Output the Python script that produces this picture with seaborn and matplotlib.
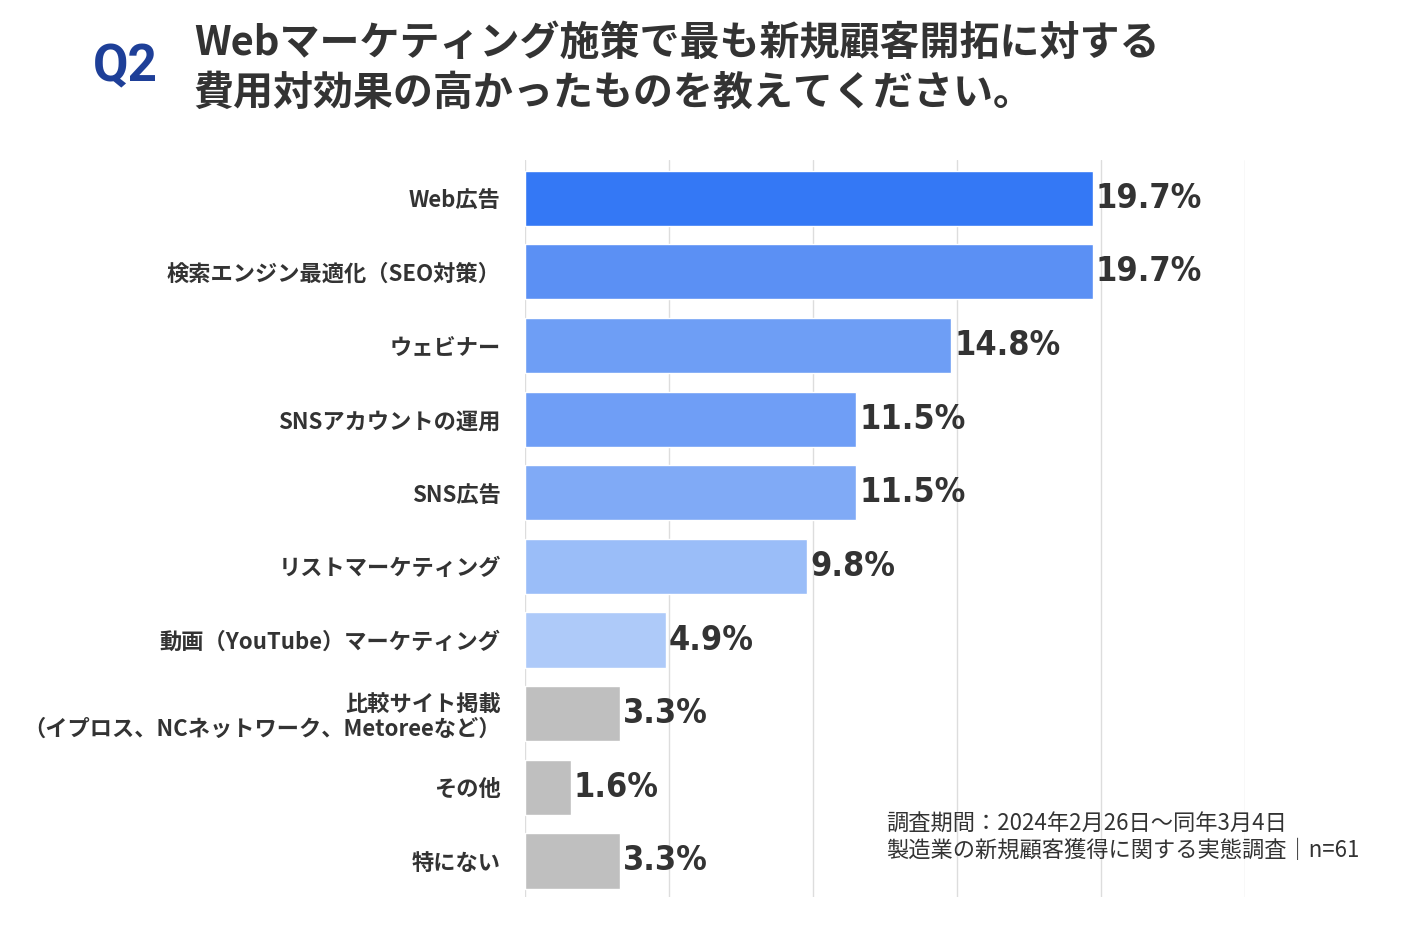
import matplotlib
matplotlib.use('Agg')
import matplotlib.pyplot as plt
import seaborn as sns
import pandas as pd

categories = [
    'Web広告',
    '検索エンジン最適化（SEO対策）',
    'ウェビナー',
    'SNSアカウントの運用',
    'SNS広告',
    'リストマーケティング',
    '動画（YouTube）マーケティング',
    '比較サイト掲載\n（イプロス、NCネットワーク、Metoreeなど）',
    'その他',
    '特にない',
]
values = [19.7, 19.7, 14.8, 11.5, 11.5, 9.8, 4.9, 3.3, 1.6, 3.3]
bar_colors = ['#3478F5', '#5B90F4', '#6E9EF5', '#6F9EF6', '#80AAF6',
              '#9ABDF8', '#AECAF9', '#BFBFBF', '#BFBFBF', '#BFBFBF']
x_ticks = [0, 5, 10, 15, 20, 25]

sns.set_style('white')
plt.rcParams['font.family'] = ['Noto Sans CJK JP', 'DejaVu Sans']

df = pd.DataFrame({'category': categories, 'value': values})

fig = plt.figure(figsize=(14.04, 9.3), dpi=100)
ax = fig.add_axes([0.374, 0.0355, 0.513, 0.7925])

sns.barplot(data=df, x='value', y='category', hue='category',
            palette=bar_colors, legend=False, width=0.75, saturation=1,
            ax=ax, zorder=2)

ax.set_xlim(0, 25)
ax.set_ylim(9.49, -0.52)
ax.set_xticks(x_ticks)
ax.xaxis.grid(True, color='#DDDDDD', linewidth=1, zorder=0)
ax.set_axisbelow(True)
for s in ax.spines.values():
    s.set_visible(False)
ax.tick_params(axis='x', bottom=False, labelbottom=False)
ax.tick_params(axis='y', left=False, pad=14)
ax.set_xlabel('')
ax.set_ylabel('')
for lbl in ax.get_yticklabels():
    lbl.set_fontsize(16)
    lbl.set_fontweight('bold')
    lbl.set_color('#333333')
    lbl.set_linespacing(1.1)

for cont in ax.containers:
    ax.bar_label(cont, fmt='%.1f%%', padding=2, fontsize=24.5,
                 fontweight='bold', color='#333333',
                 family='DejaVu Sans', fontstretch='condensed')

fig.text(0.066, 0.928, 'Q2', fontsize=37, fontweight='bold', color='#1E3F98',
         va='center', ha='left', family=['Roboto', 'DejaVu Sans'])
fig.text(0.138, 0.926, 'Webマーケティング施策で最も新規顧客開拓に対する\n費用対効果の高かったものを教えてください。',
         fontsize=28.8, fontweight='bold', color='#333333', va='center',
         ha='left', linespacing=1.27)

fig.text(0.631, 0.1, '調査期間：2024年2月26日～同年3月4日\n製造業の新規顧客獲得に関する実態調査｜n=61',
         fontsize=16, color='#333333', va='center', ha='left', linespacing=1.2)

fig.savefig('out.png', dpi=100)
